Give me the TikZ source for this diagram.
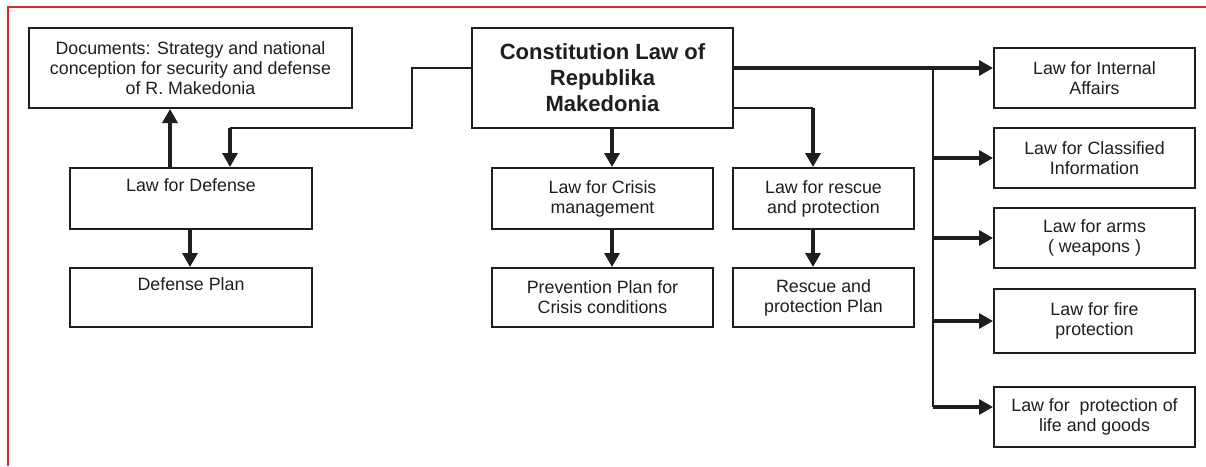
\documentclass[tikz,border=0pt]{standalone}
\usepackage{fontspec}
\setmainfont{Liberation Sans}
\usetikzlibrary{arrows.meta,calc}
\definecolor{frame}{RGB}{232,36,44}
\definecolor{ink}{RGB}{30,30,30}
\begin{document}
\begin{tikzpicture}[x=1pt,y=-1pt,
  box/.style={draw=ink,line width=2pt,inner sep=0pt,align=center,text=ink,
    font=\fontsize{17.8}{20}\selectfont},
  thinline/.style={draw=ink,line width=1.8pt},
  arr/.style={draw=ink,line width=3.2pt,-{Triangle[length=14pt,width=15pt]}},
  thick/.style={draw=ink,line width=3.2pt}]
\useasboundingbox (0,0) rectangle (1206,466);
\fill[white] (0,0) rectangle (1206,466);
\draw[frame,line width=2pt] (7.5,466) -- (7.5,6.5) -- (1206,6.5);

% nodes
\node[box,minimum width=323pt,minimum height=80pt] (doc) at (190.5,68)
  {Documents: Strategy and national\\conception for security and defense\\of R. Makedonia};
\node[box,minimum width=261pt,minimum height=100pt,font=\fontsize{22}{26}\selectfont\bfseries] (const) at (602.5,78)
  {Constitution Law of\\Republika\\Makedonia};
\node[box,minimum width=242pt,minimum height=61pt] (def) at (191,198.5) {Law for Defense\\\strut};
\node[box,minimum width=242pt,minimum height=59pt] (defplan) at (191,297.5) {Defense Plan\\\strut};
\node[box,minimum width=221pt,minimum height=61pt] (crisis) at (602.5,198.5) {Law for Crisis\\management};
\node[box,minimum width=181pt,minimum height=61pt] (rescue) at (823.5,198.5) {Law for rescue\\and protection};
\node[box,minimum width=221pt,minimum height=59pt] (prev) at (602.5,297.5) {Prevention Plan for\\Crisis conditions};
\node[box,minimum width=181pt,minimum height=59pt] (rplan) at (823.5,297.5) {Rescue and\\protection Plan};
\node[box,minimum width=201pt,minimum height=60pt] (r1) at (1094.5,78) {Law for Internal\\Affairs};
\node[box,minimum width=201pt,minimum height=60pt] (r2) at (1094.5,158) {Law for Classified\\Information};
\node[box,minimum width=201pt,minimum height=60pt] (r3) at (1094.5,238) {Law for arms\\( weapons )};
\node[box,minimum width=201pt,minimum height=64pt] (r4) at (1094.5,321) {Law for fire\\protection};
\node[box,minimum width=201pt,minimum height=60pt] (r5) at (1094.5,417) {Law for\ \ protection of\\life and goods};

% helper coordinates
\coordinate (xDocUp) at (170,0);
\coordinate (xDefIn) at (230,0);
\coordinate (xDefPlan) at (190,0);
\coordinate (cBendA) at (412,68);
\coordinate (cBendB) at (412,128);
\coordinate (cBendC) at (230,128);
\coordinate (yConstLow) at (0,108);
\coordinate (cRes) at (813,108);
\coordinate (xRes) at (813,0);
\coordinate (xMid) at (612,0);
\coordinate (bus) at (933,68);
\coordinate (busEnd) at (933,407);

% connectors
\draw[arr] (def.north -| xDocUp) -- (doc.south -| xDocUp);
\draw[thinline] (const.west |- cBendA) -- (cBendA) -- (cBendB) -- (cBendC);
\draw[arr] (cBendC) -- (def.north -| xDefIn);
\draw[arr] (def.south -| xDefPlan) -- (defplan.north -| xDefPlan);
\draw[arr] (const.south -| xMid) -- (crisis.north -| xMid);
\draw[arr] (crisis.south -| xMid) -- (prev.north -| xMid);
\draw[thinline] (const.east |- yConstLow) -- (cRes);
\draw[arr] (cRes) -- (rescue.north -| xRes);
\draw[arr] (rescue.south -| xRes) -- (rplan.north -| xRes);
\draw[arr] (const.east |- bus) -- (r1.west |- bus);
\draw[thinline] (bus) -- (busEnd);
\draw[arr] (bus |- r2.west) -- (r2.west);
\draw[arr] (bus |- r3.west) -- (r3.west);
\draw[arr] (bus |- r4.west) -- (r4.west);
\draw[arr] (busEnd) -- (r5.west |- busEnd);
\end{tikzpicture}
\end{document}
